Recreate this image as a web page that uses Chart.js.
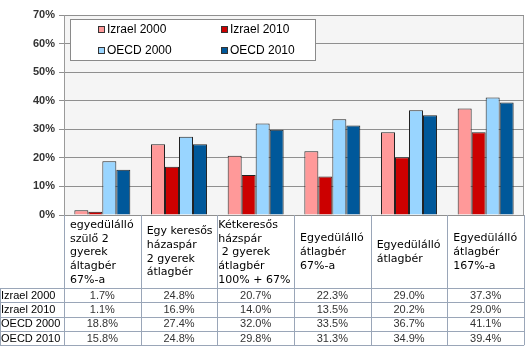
<!DOCTYPE html>
<html>
<head>
<meta charset="utf-8">
<script src="https://cdn.jsdelivr.net/npm/chart.js@4"></script>
<style>
  html, body { margin: 0; padding: 0; background: #fff; }
  #wrap { width: 526px; height: 353px; }
</style>
</head>
<body>
<div id="wrap"><canvas id="chart" width="526" height="353"></canvas></div>
<script>
// data
const categories = [
    ['egyedülálló', 'szülő 2', 'gyerek', 'áltagbér', '67%-a'],
    ['Egy keresős', 'házaspár', '2 gyerek', 'átlagbér'],
    ['Kétkeresős', 'házspár', ' 2 gyerek', 'átlagbér', '100% + 67%'],
    ['Egyedülálló', 'átlagbér', '67%-a'],
    ['Egyedülálló', 'átlagbér'],
    ['Egyedülálló', 'átlagbér', '167%-a']
];
const seriesNames = ['Izrael 2000', 'Izrael 2010', 'OECD 2000', 'OECD 2010'];
const israel2000 = [1.7, 24.8, 20.7, 22.3, 29.0, 37.3];
const israel2010 = [1.1, 16.9, 14.0, 13.5, 20.2, 29.0];
const oecd2000 = [18.8, 27.4, 32.0, 33.5, 36.7, 41.1];
const oecd2010 = [15.8, 24.8, 29.8, 31.3, 34.9, 39.4];
const yTicks = [0, 10, 20, 30, 40, 50, 60, 70];

const colors = {
    pink: '#FF9999',
    red: '#CC0000',
    lightBlue: '#99D5FF',
    darkBlue: '#00589A'
};
const tableLine = '#9aa6b8';

// plot background + border
const plotBg = {
    id: 'plotBg',
    beforeDraw(chart) {
        const { ctx, chartArea: a } = chart;
        ctx.save();
        ctx.fillStyle = '#f5f5f5';
        ctx.fillRect(a.left, a.top, a.right - a.left, a.bottom - a.top);
        ctx.strokeStyle = '#9a9a9a';
        ctx.lineWidth = 1;
        ctx.strokeRect(a.left + 0.5, a.top + 0.5, a.right - a.left - 1, a.bottom - a.top);
        ctx.restore();
    }
};

// legend drawn inside the plot, like the excel one
const boxLegend = {
    id: 'boxLegend',
    afterDatasetsDraw(chart) {
        const { ctx, chartArea: a } = chart;
        const x0 = a.left + 6, y0 = a.top + 4, w = 245, h = 41;
        ctx.save();
        ctx.fillStyle = '#fff';
        ctx.fillRect(x0, y0, w, h);
        ctx.strokeStyle = '#8a8a8a';
        ctx.strokeRect(x0 + 0.5, y0 + 0.5, w, h);
        ctx.font = '12px "Liberation Sans", Arial, sans-serif';
        ctx.textBaseline = 'middle';
        chart.data.datasets.forEach((ds, i) => {
            const col = i % 2, row = Math.floor(i / 2);
            const mx = x0 + 28 + col * 123;
            const my = y0 + 10 + row * 21;
            ctx.fillStyle = ds.backgroundColor;
            ctx.fillRect(mx, my - 3, 7, 7);
            ctx.strokeStyle = '#333';
            ctx.strokeRect(mx + 0.5, my - 2.5, 6, 6);
            ctx.fillStyle = '#000';
            ctx.fillText(ds.label, mx + 9, my + 1);
        });
        ctx.restore();
    }
};

// data table under the chart
const dataTable = {
    id: 'dataTable',
    afterDraw(chart) {
        const { ctx, chartArea: a } = chart;
        const x = chart.scales.x;
        const n = chart.data.labels.length;
        const colW = (a.right - a.left) / n;
        const top = a.bottom;
        const headBottom = top + 73;
        const rowH = 14.3;
        const nRows = chart.data.datasets.length;
        const bottom = headBottom + rowH * nRows;
        ctx.save();
        ctx.strokeStyle = tableLine;
        ctx.lineWidth = 1;
        ctx.beginPath();
        // vertical lines
        for (let i = 0; i <= n; i++) {
            const vx = Math.round(a.left + i * colW) + 0.5;
            ctx.moveTo(vx, top);
            ctx.lineTo(vx, bottom);
        }
        ctx.moveTo(0.5, headBottom);
        ctx.lineTo(0.5, bottom);
        // horizontal lines
        for (let r = 0; r <= nRows; r++) {
            const hy = Math.round(headBottom + r * rowH) + 0.5;
            ctx.moveTo(0, hy);
            ctx.lineTo(a.right, hy);
        }
        ctx.stroke();

        // header labels
        ctx.fillStyle = '#000';
        ctx.font = '11px "DejaVu Sans", sans-serif';
        ctx.textBaseline = 'middle';
        ctx.textAlign = 'left';
        chart.data.labels.forEach((lines, i) => {
            const cx = x.getPixelForValue(i) - colW / 2;
            const lh = 13.7;
            let y = i === 0 || i === 2 ? top + 10 : top + 37 - (lines.length - 1) * lh / 2;
            lines.forEach((t, k) => {
                ctx.fillText(t, cx + (i === 2 ? 1 : 6), y + k * lh);
            });
        });

        // rows
        ctx.font = '11px "Liberation Sans", Arial, sans-serif';
        chart.data.datasets.forEach((ds, r) => {
            const cy = headBottom + r * rowH + rowH / 2 + 0.5;
            ctx.textAlign = 'left';
            ctx.fillStyle = '#000';
            ctx.fillText(ds.label, 1, cy);
            ctx.textAlign = 'center';
            ctx.fillStyle = '#333';
            ds.data.forEach((v, i) => {
                ctx.fillText(v.toFixed(1) + '%', x.getPixelForValue(i), cy);
            });
        });
        ctx.restore();
    }
};

const seriesData = [israel2000, israel2010, oecd2000, oecd2010];
const seriesColors = [colors.pink, colors.red, colors.lightBlue, colors.darkBlue];

new Chart(document.getElementById('chart').getContext('2d'), {
    type: 'bar',
    data: {
        labels: categories,
        datasets: seriesNames.map((name, i) => ({
            label: name,
            data: seriesData[i],
            backgroundColor: seriesColors[i],
            borderColor: '#222',
            borderWidth: 1,
            borderSkipped: 'bottom',
            categoryPercentage: 0.73,
            barPercentage: 1
        }))
    },
    options: {
        responsive: false,
        animation: false,
        layout: { padding: { top: 15, right: 2, bottom: 138, left: 0 } },
        scales: {
            x: {
                display: false
            },
            y: {
                min: 0,
                max: 70,
                afterFit(scale) { scale.width = 64; },
                afterBuildTicks(scale) { scale.ticks = yTicks.map(v => ({ value: v })); },
                border: { display: true, color: '#9a9a9a' },
                grid: {
                    color: '#8f8f8f',
                    tickLength: 5,
                    drawOnChartArea: true
                },
                ticks: {
                    padding: 4,
                    color: '#333',
                    font: { family: '"Liberation Sans", Arial, sans-serif', size: 11, weight: 'bold' },
                    callback: v => v + '%'
                }
            }
        },
        plugins: {
            legend: { display: false },
            tooltip: { enabled: false }
        }
    },
    plugins: [plotBg, boxLegend, dataTable]
});
</script>
</body>
</html>
